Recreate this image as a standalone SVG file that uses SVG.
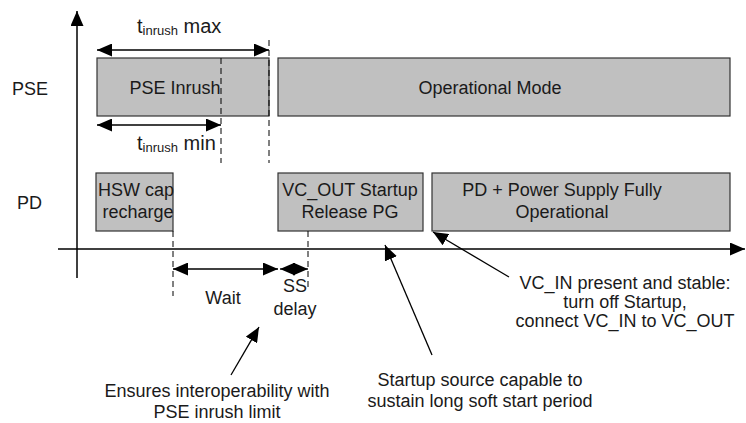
<svg xmlns="http://www.w3.org/2000/svg" width="746" height="423" viewBox="0 0 746 423">
<style>
text{font-family:"Liberation Sans",Arial,sans-serif;font-size:18px;fill:#1a1a1a}
.box{fill:#c0c0c0;stroke:#333;stroke-width:1.2}
.ax{stroke:#000;stroke-width:1.5;fill:none}
.ln{stroke:#000;stroke-width:1.3;fill:none}
.dash{stroke:#000;stroke-width:1;stroke-dasharray:6,4;fill:none}
.c{text-anchor:middle}
.big{font-size:20px}
.sub{font-size:13px}
</style>
<defs>
<marker id="ah" markerUnits="userSpaceOnUse" markerWidth="16" markerHeight="13" refX="15" refY="6.5" orient="auto-start-reverse">
<path d="M0,0 L15,6.5 L0,13 z" fill="#000"/>
</marker>
</defs>
<g id="axes">
<line class="ax" x1="77" y1="278" x2="77" y2="11" marker-end="url(#ah)"/>
<line class="ax" x1="58" y1="249" x2="745" y2="249" marker-end="url(#ah)"/>
<text x="12" y="95">PSE</text>
<text x="17" y="209">PD</text>
</g>
<g id="pse-inrush">
<rect class="box" x="97" y="58" width="172" height="58"/>
<text class="c" x="175" y="94">PSE Inrush</text>
</g>
<g id="operational-mode">
<rect class="box" x="278" y="58" width="452" height="58"/>
<text class="c" x="490" y="94">Operational Mode</text>
</g>
<g id="hsw-cap">
<rect class="box" x="96" y="173" width="77" height="58"/>
<text class="c" x="136" y="196">HSW cap</text>
<text class="c" x="138" y="218">recharge</text>
</g>
<g id="vc-out-startup">
<rect class="box" x="278" y="173" width="145" height="58"/>
<text class="c" x="350" y="196">VC_OUT Startup</text>
<text class="c" x="350" y="218">Release PG</text>
</g>
<g id="pd-operational">
<rect class="box" x="432" y="173" width="298" height="58"/>
<text class="c" x="562" y="196">PD + Power Supply Fully</text>
<text class="c" x="562" y="218">Operational</text>
</g>
<g id="connectors">
<line class="dash" x1="269" y1="40" x2="269" y2="163"/>
<line class="dash" x1="221" y1="58" x2="221" y2="163"/>
<line class="dash" x1="173" y1="231" x2="173" y2="296"/>
<line class="dash" x1="308" y1="231" x2="308" y2="289"/>
<line class="ln" x1="97" y1="50" x2="269" y2="50" marker-start="url(#ah)" marker-end="url(#ah)"/>
<line class="ln" x1="97" y1="125" x2="221" y2="125" marker-start="url(#ah)" marker-end="url(#ah)"/>
<line class="ln" x1="173" y1="269" x2="278" y2="269" marker-start="url(#ah)" marker-end="url(#ah)"/>
<line class="ln" x1="280" y1="269" x2="308" y2="269" marker-start="url(#ah)" marker-end="url(#ah)"/>
<line class="ln" x1="231" y1="375" x2="259" y2="327" marker-end="url(#ah)"/>
<line class="ln" x1="432" y1="355" x2="385" y2="245" marker-end="url(#ah)"/>
<line class="ln" x1="509" y1="277" x2="433" y2="232" marker-end="url(#ah)"/>
</g>
<g id="labels">
<text class="big" x="137" y="33">t<tspan class="sub" dy="2">inrush</tspan><tspan dy="-2"> max</tspan></text>
<text class="big" x="137" y="150">t<tspan class="sub" dy="2">inrush</tspan><tspan dy="-2"> min</tspan></text>
<text class="c" x="223" y="304">Wait</text>
<text class="c" x="295" y="292">SS</text>
<text class="c" x="295" y="315">delay</text>
<text class="c" x="217" y="397">Ensures interoperability with</text>
<text class="c" x="217" y="418">PSE inrush limit</text>
<text class="c" x="480" y="386">Startup source capable to</text>
<text class="c" x="480" y="407">sustain long soft start period</text>
<text class="c" x="625" y="289">VC_IN present and stable:</text>
<text class="c" x="625" y="308">turn off Startup,</text>
<text class="c" x="625" y="327">connect VC_IN to VC_OUT</text>
</g>
</svg>
